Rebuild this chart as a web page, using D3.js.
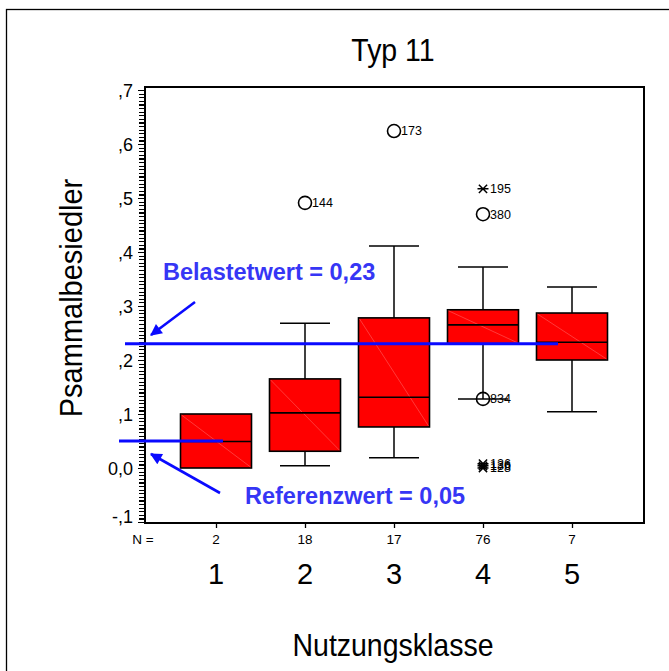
<!DOCTYPE html>
<html>
<head>
<meta charset="utf-8">
<script src="https://cdn.jsdelivr.net/npm/d3@7"></script>
<style>
  html, body { margin: 0; padding: 0; background: #fff; }
  svg text { font-family: "Liberation Sans", Arial, sans-serif; }
</style>
</head>
<body>
<svg id="chart" width="669" height="671"></svg>
<script>
// Usage classes and sample sizes
const categories = [1, 2, 3, 4, 5];
const counts = [2, 18, 17, 76, 7];

// Box statistics per class
const lowerWhisker = [null, 0.004, 0.019, 0.128, 0.104];
const q1Values     = [0.000, 0.031, 0.076, 0.230, 0.200];
const medians      = [0.049, 0.102, 0.131, 0.265, 0.233];
const q3Values     = [0.100, 0.165, 0.278, 0.293, 0.287];
const upperWhisker = [null, 0.268, 0.411, 0.372, 0.335];

// Outliers (o) and extremes (*) with case numbers
const outlierClass = [2, 3, 4, 4, 4, 4, 4, 4];
const outlierValue = [0.491, 0.624, 0.517, 0.470, 0.128, 0.008, 0.004, 0.000];
const outlierId    = ["144", "173", "195", "380", "834", "126", "136", "128"];
const outlierKind  = ["o", "o", "*", "o", "o", "*", "*", "*"];

// Threshold lines
const referenceValue = 0.05;
const loadedValue = 0.23;
const yTickValues = [-0.1, 0, 0.1, 0.2, 0.3, 0.4, 0.5, 0.6, 0.7];
const yTickLabels = ["-,1", "0,0", ",1", ",2", ",3", ",4", ",5", ",6", ",7"];

const svg = d3.select("#chart");
const plot = { left: 145, right: 644, top: 87, bottom: 523 };

const x = d3.scalePoint().domain(categories).range([216, 572]);
const y = d3.scaleLinear().domain([-0.1, 0.7]).range([522, 90]);

// Text that is slightly taller than the font's natural proportions
function tallText(parent, px, py, size, str, rotate = 0, stretch = 1.1) {
  return parent.append("text")
    .attr("transform", `translate(${px},${py}) rotate(${rotate}) scale(1,${stretch})`)
    .attr("text-anchor", "middle").attr("font-size", size).text(str);
}

// Outer frame
svg.append("rect")
  .attr("x", 6.5).attr("y", 9.5).attr("width", 700).attr("height", 700)
  .attr("fill", "none").attr("stroke", "#000").attr("stroke-width", 1.3);

// Title
tallText(svg, 393, 61, 28.5, "Typ 11");

// Plot frame
svg.append("rect")
  .attr("x", plot.left).attr("y", plot.top)
  .attr("width", plot.right - plot.left).attr("height", plot.bottom - plot.top)
  .attr("fill", "none").attr("stroke", "#000").attr("stroke-width", 2);

// Y axis: minor ticks
const minorTicks = d3.range(0, 121).map(i => -0.1 + i * (0.1 / 15));
const yAxisMinor = d3.axisLeft(y).tickValues(minorTicks).tickSize(6).tickFormat("");
const gMinor = svg.append("g").attr("transform", `translate(${plot.left},0)`).call(yAxisMinor);
gMinor.select(".domain").remove();
gMinor.selectAll("line").attr("stroke-width", 1.2).attr("shape-rendering", "crispEdges");

// Y axis: labels
const yAxis = d3.axisLeft(y).tickValues(yTickValues).tickSize(7)
  .tickFormat((d, i) => yTickLabels[i]);
const gY = svg.append("g").attr("transform", `translate(${plot.left},0)`).call(yAxis);
gY.select(".domain").remove();
gY.selectAll("text").attr("font-size", 18).attr("font-family", "Liberation Sans, Arial, sans-serif")
  .attr("x", -12).attr("dy", "0.35em");
gY.selectAll("text").filter(d => d === -0.1).attr("dy", "0.05em");

// X axis ticks
const xAxis = d3.axisBottom(x).tickSize(5).tickFormat("");
const gX = svg.append("g").attr("transform", `translate(0,${plot.bottom})`).call(xAxis);
gX.select(".domain").remove();
gX.selectAll("line").attr("stroke-width", 1.3);

// N labels
svg.append("text").attr("x", 143).attr("y", 544).attr("text-anchor", "middle")
  .attr("font-size", 13.5).text("N =");
svg.selectAll(".nlab").data(categories).enter().append("text")
  .attr("x", d => x(d)).attr("y", 544).attr("text-anchor", "middle")
  .attr("font-size", 13.5).text((d, i) => counts[i]);

// Category labels
svg.selectAll(".clab").data(categories).enter().append("text")
  .attr("x", d => x(d)).attr("y", 584).attr("text-anchor", "middle")
  .attr("font-size", 29).text(d => d);

// Axis titles
tallText(svg, 393, 656, 28.5, "Nutzungsklasse");
tallText(svg, 82, 298, 29, "Psammalbesiedler", -90);

// Boxes
const boxW = 71, capW = 50;
const boxes = svg.append("g");
categories.forEach((c, i) => {
  const cx = x(c);
  const g = boxes.append("g");
  if (upperWhisker[i] !== null) {
    g.append("line").attr("x1", cx).attr("x2", cx)
      .attr("y1", y(q3Values[i])).attr("y2", y(upperWhisker[i]))
      .attr("stroke", "#000").attr("stroke-width", 1.5);
    g.append("line").attr("x1", cx - capW / 2).attr("x2", cx + capW / 2)
      .attr("y1", y(upperWhisker[i])).attr("y2", y(upperWhisker[i]))
      .attr("stroke", "#000").attr("stroke-width", 1.5);
  }
  if (lowerWhisker[i] !== null) {
    g.append("line").attr("x1", cx).attr("x2", cx)
      .attr("y1", y(q1Values[i])).attr("y2", y(lowerWhisker[i]))
      .attr("stroke", "#000").attr("stroke-width", 1.5);
    g.append("line").attr("x1", cx - capW / 2).attr("x2", cx + capW / 2)
      .attr("y1", y(lowerWhisker[i])).attr("y2", y(lowerWhisker[i]))
      .attr("stroke", "#000").attr("stroke-width", 1.5);
  }
  const top = y(q3Values[i]), bot = y(q1Values[i]);
  g.append("rect").attr("x", cx - boxW / 2).attr("y", top)
    .attr("width", boxW).attr("height", bot - top)
    .attr("fill", "#ff0000").attr("stroke", "#000").attr("stroke-width", 1.6);
  g.append("line").attr("x1", cx - boxW / 2 + 1).attr("y1", top + 1)
    .attr("x2", cx + boxW / 2 - 1).attr("y2", bot - 1)
    .attr("stroke", "#ff8a8a").attr("stroke-width", 0.6).attr("opacity", 0.7);
  g.append("line").attr("x1", cx - boxW / 2).attr("x2", cx + boxW / 2)
    .attr("y1", y(medians[i])).attr("y2", y(medians[i]))
    .attr("stroke", "#000").attr("stroke-width", 1.6);
});

// Outliers
const outG = svg.append("g");
outlierValue.forEach((v, i) => {
  const cx = x(outlierClass[i]), cy = y(v);
  if (outlierKind[i] === "o") {
    outG.append("circle").attr("cx", cx).attr("cy", cy).attr("r", 6.5)
      .attr("fill", "none").attr("stroke", "#000").attr("stroke-width", 1.6);
  } else {
    const s = 5.5;
    outG.append("path")
      .attr("d", `M${cx - s},${cy}H${cx + s}M${cx - s * 0.75},${cy - s * 0.75}L${cx + s * 0.75},${cy + s * 0.75}M${cx - s * 0.75},${cy + s * 0.75}L${cx + s * 0.75},${cy - s * 0.75}`)
      .attr("stroke", "#000").attr("stroke-width", 1.5).attr("fill", "none");
  }
  outG.append("text").attr("x", cx + 7).attr("y", cy).attr("dy", "0.35em")
    .attr("font-size", 12.5).text(outlierId[i]);
});

// Threshold lines and annotations
const blue = "#0a0aff";
const textBlue = "#3636f5";
svg.append("line").attr("x1", 125).attr("x2", 558)
  .attr("y1", y(loadedValue)).attr("y2", y(loadedValue))
  .attr("stroke", blue).attr("stroke-width", 3);
svg.append("line").attr("x1", 119).attr("x2", 223)
  .attr("y1", y(referenceValue)).attr("y2", y(referenceValue))
  .attr("stroke", blue).attr("stroke-width", 3);

svg.append("defs").append("marker")
  .attr("id", "arrowhead").attr("viewBox", "0 0 10 10")
  .attr("refX", 9).attr("refY", 5)
  .attr("markerWidth", 5).attr("markerHeight", 4.5)
  .attr("markerUnits", "strokeWidth").attr("orient", "auto")
  .append("path").attr("d", "M0,0L10,5L0,10Z").attr("fill", blue);

svg.append("line").attr("x1", 195).attr("y1", 302).attr("x2", 151).attr("y2", 335)
  .attr("stroke", blue).attr("stroke-width", 2.6).attr("marker-end", "url(#arrowhead)");
svg.append("line").attr("x1", 220).attr("y1", 493).attr("x2", 151).attr("y2", 454)
  .attr("stroke", blue).attr("stroke-width", 2.6).attr("marker-end", "url(#arrowhead)");

svg.append("text").attr("x", 163).attr("y", 280).attr("font-size", 23.5)
  .attr("font-weight", "bold").attr("fill", textBlue).text("Belastetwert = 0,23");
svg.append("text").attr("x", 245).attr("y", 504).attr("font-size", 23.5)
  .attr("font-weight", "bold").attr("fill", textBlue).text("Referenzwert = 0,05");
</script>
</body>
</html>
